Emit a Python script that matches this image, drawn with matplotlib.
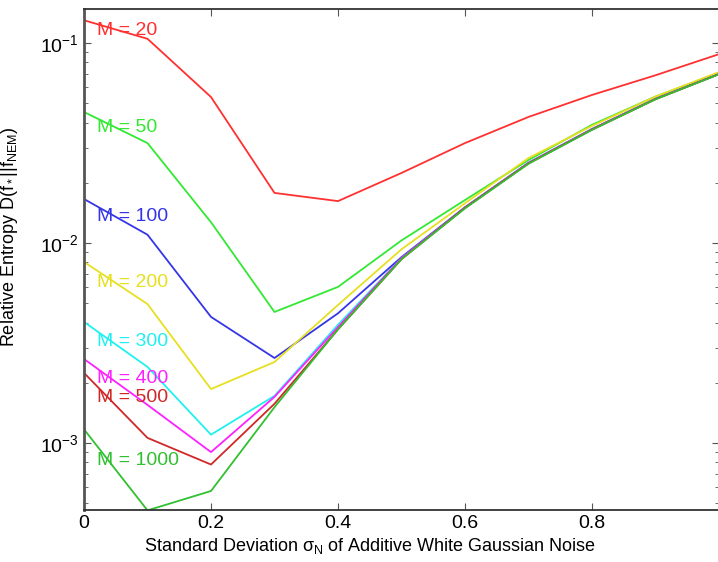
import matplotlib
matplotlib.use('Agg')
import matplotlib.pyplot as plt
from matplotlib.ticker import LogLocator, NullFormatter

plt.rcParams['font.family'] = ['Liberation Sans', 'DejaVu Sans']
plt.rcParams['mathtext.fontset'] = 'custom'
plt.rcParams['mathtext.rm'] = 'Liberation Sans'
plt.rcParams['mathtext.it'] = 'Liberation Sans'
plt.rcParams['mathtext.sf'] = 'Liberation Sans'

# noise standard deviation (x axis)
sigma = [0.0, 0.1, 0.2, 0.3, 0.4, 0.5, 0.6, 0.7, 0.8, 0.9, 1.0]

# relative entropy per sample size M
m_labels = ['M = 20', 'M = 50', 'M = 100', 'M = 200',
            'M = 300', 'M = 400', 'M = 500', 'M = 1000']
ent_20 = [0.130, 0.105, 0.0537, 0.0178, 0.0162, 0.0224, 0.0316, 0.0427, 0.055, 0.069, 0.088]
ent_50 = [0.0452, 0.0316, 0.0127, 0.00452, 0.00603, 0.0103, 0.0164, 0.026, 0.039, 0.054, 0.0708]
ent_100 = [0.0166, 0.011, 0.00427, 0.00266, 0.00445, 0.0085, 0.0151, 0.0252, 0.0372, 0.0527, 0.0702]
ent_200 = [0.00804, 0.00495, 0.00186, 0.00254, 0.0049, 0.0093, 0.0158, 0.0266, 0.0385, 0.0540, 0.0716]
ent_300 = [0.00403, 0.0024, 0.0011, 0.00172, 0.0039, 0.0084, 0.0150, 0.0251, 0.0370, 0.0525, 0.0700]
ent_400 = [0.00263, 0.00155, 0.0009, 0.0017, 0.0038, 0.0084, 0.0150, 0.0251, 0.0370, 0.0525, 0.0700]
ent_500 = [0.00224, 0.00106, 0.00078, 0.00157, 0.0037, 0.0083, 0.0150, 0.0250, 0.0369, 0.0524, 0.0699]
ent_1000 = [0.00117, 0.00046, 0.000575, 0.00151, 0.0037, 0.0083, 0.0149, 0.0249, 0.0368, 0.0523, 0.0698]

# where the "M = ..." labels sit on the y axis
label_y = [0.115, 0.038, 0.0136, 0.00638, 0.0032, 0.00209, 0.00168, 0.000813]

colors = ['#ff3030', '#33e833', '#3535e8', '#e6e020',
          '#20f0f0', '#ff20ff', '#d02828', '#30c030']

series = [ent_20, ent_50, ent_100, ent_200, ent_300, ent_400, ent_500, ent_1000]

fig = plt.figure(figsize=(7.18, 5.62), dpi=100)
ax = fig.add_axes([84 / 718, 52 / 562, 635 / 718, 501 / 562])

for vals, col, lab, ly in zip(series, colors, m_labels, label_y):
    ax.plot(sigma, vals, color=col, linewidth=1.3)
    ax.text(0.02, ly, lab, color=col, fontsize=14, va='center', ha='left')

ax.set_yscale('log')
ax.set_xlim(0, 1)
ax.set_ylim(4.62e-4, 0.148)
# the "1" label falls past the right edge of the picture in the reference
ax.set_xticks([0, 0.2, 0.4, 0.6, 0.8, 1.0])
ax.set_xticklabels(['0', '0.2', '0.4', '0.6', '0.8', ''])
ax.yaxis.set_major_locator(LogLocator(base=10, numticks=10))
ax.yaxis.set_minor_locator(LogLocator(base=10, subs=range(2, 10), numticks=20))
ax.yaxis.set_minor_formatter(NullFormatter())

ax.tick_params(which='both', direction='in', top=True, right=True, labelsize=14,
               color='#555555')
ax.tick_params(which='major', length=5)
ax.tick_params(which='minor', length=3)
for name, sp in ax.spines.items():
    sp.set_color('#333333')
    sp.set_linewidth(1.3)
ax.spines['left'].set_color('#555555')
ax.spines['left'].set_linewidth(2.0)

ax.set_xlabel(r'Standard Deviation $\sigma_N$ of Additive White Gaussian Noise', fontsize=13)
ax.set_ylabel(r'Relative Entropy D(f$_*$||f$_{NEM}$)', fontsize=13)
ax.xaxis.set_label_coords((370 - 84) / 635, -0.052)
ax.yaxis.set_label_coords(-0.1, (510 - 237) / 501)

fig.savefig('out.png', dpi=100)
